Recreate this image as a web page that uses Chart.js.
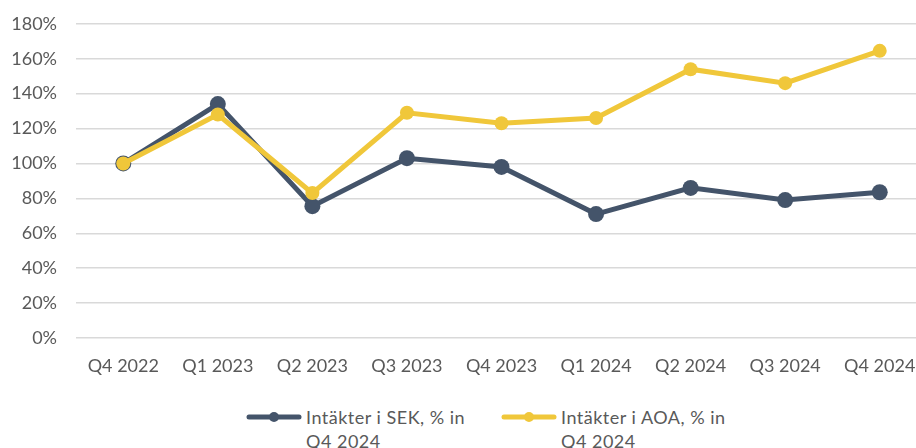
<!DOCTYPE html>
<html>
<head>
<meta charset="utf-8">
<script src="https://cdn.jsdelivr.net/npm/chart.js@4"></script>
<style>
  html, body { margin: 0; padding: 0; overflow: hidden; background: #fff; }
  #wrap { width: 975px; height: 404px; margin-top: -6px; }
  #legend { position: absolute; left: 0; top: 405px; width: 975px; height: 60px; }
  .item { position: absolute; top: 0; display: flex; align-items: flex-start; }
  .item canvas { margin-top: 6px; margin-right: 4px; }
  .item span { font: 18px Lato, "Open Sans", sans-serif; letter-spacing: 0.5px; line-height: 24px; color: #595959; white-space: nowrap; }
</style>
</head>
<body>
<div id="wrap"><canvas id="chart"></canvas></div>
<div id="legend"></div>
<script>
var quarters = ['Q4 2022', 'Q1 2023', 'Q2 2023', 'Q3 2023', 'Q4 2023', 'Q1 2024', 'Q2 2024', 'Q3 2024', 'Q4 2024'];
var sekValues = [100, 134, 75.5, 103, 98, 71, 86, 79, 83.5];
var aoaValues = [100, 128, 83, 129, 123, 126, 154, 146, 164.5];
var sekLabel = ['Intäkter i SEK, % in', 'Q4 2024'];
var aoaLabel = ['Intäkter i AOA, % in', 'Q4 2024'];

var SEK_COLOR = '#44546A';
var AOA_COLOR = '#F0C73A';
var FONT = 'Lato, "Open Sans", sans-serif';

function legendSymbol(color) {
    var c = document.createElement('canvas');
    c.width = 56;
    c.height = 12;
    var g = c.getContext('2d');
    g.strokeStyle = color;
    g.lineWidth = 5;
    g.lineCap = 'round';
    g.beginPath();
    g.moveTo(3, 6);
    g.lineTo(53, 6);
    g.stroke();
    g.fillStyle = color;
    g.beginPath();
    g.arc(28, 6, 5, 0, Math.PI * 2);
    g.fill();
    return c;
}

// html legend, since the text wraps onto two lines
var htmlLegend = {
    id: 'htmlLegend',
    afterUpdate: function (chart) {
        var box = document.getElementById('legend');
        box.innerHTML = '';
        var lefts = [246, 501];
        chart.data.datasets.forEach(function (ds, i) {
            var item = document.createElement('div');
            item.className = 'item';
            item.style.left = lefts[i] + 'px';
            item.appendChild(legendSymbol(ds.borderColor));
            var span = document.createElement('span');
            span.innerHTML = ds.label.join('<br>');
            item.appendChild(span);
            box.appendChild(item);
        });
    }
};

var ctx = document.getElementById('chart').getContext('2d');
var chart = new Chart(ctx, {
    type: 'line',
    data: {
        labels: quarters,
        datasets: [{
            label: sekLabel,
            data: sekValues,
            borderColor: SEK_COLOR,
            backgroundColor: SEK_COLOR,
            pointBackgroundColor: SEK_COLOR,
            pointBorderColor: SEK_COLOR,
            borderWidth: 5,
            pointRadius: 8,
            pointBorderWidth: 0,
            order: 2
        }, {
            label: aoaLabel,
            data: aoaValues,
            borderColor: AOA_COLOR,
            backgroundColor: AOA_COLOR,
            pointBackgroundColor: AOA_COLOR,
            pointBorderColor: AOA_COLOR,
            borderWidth: 5,
            pointRadius: 7,
            pointBorderWidth: 0,
            order: 1
        }]
    },
    plugins: [htmlLegend],
    options: {
        responsive: true,
        maintainAspectRatio: false,
        animation: false,
        layout: { padding: 0 },
        plugins: {
            tooltip: { enabled: false },
            legend: { display: false }
        },
        scales: {
            x: {
                offset: true,
                grid: { display: false, drawTicks: false },
                border: { display: false },
                ticks: {
                    color: '#595959',
                    font: { family: FONT, size: 18 },
                    padding: 17,
                    maxRotation: 0
                },
                afterFit: function (s) { s.height = 60; }
            },
            y: {
                min: 0,
                max: 180,
                grid: { color: '#D9D9D9', lineWidth: 1.5, drawTicks: false },
                border: { display: false },
                ticks: {
                    stepSize: 20,
                    color: '#595959',
                    font: { family: FONT, size: 18 },
                    padding: 19,
                    callback: function (v) { return v + '%'; }
                },
                afterFit: function (s) { s.width = 76; }
            },
            yRight: {
                position: 'right',
                display: true,
                grid: { display: false },
                border: { display: false },
                ticks: { display: false },
                afterFit: function (s) { s.width = 48; }
            }
        }
    }
});
</script>
</body>
</html>
